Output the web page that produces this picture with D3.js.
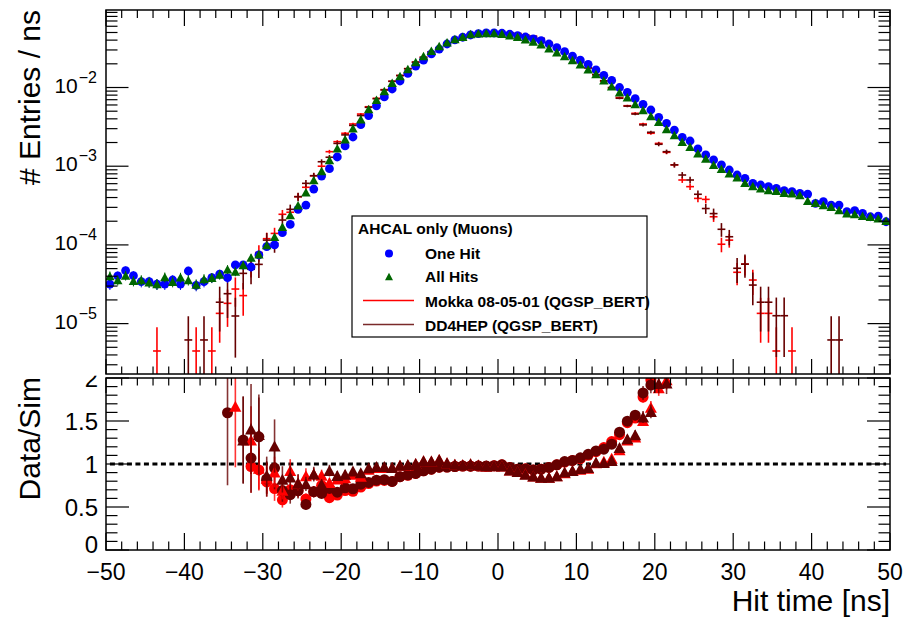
<!DOCTYPE html>
<html><head><meta charset="utf-8">
<script src="https://cdn.jsdelivr.net/npm/d3@7"></script>
<style>body{margin:0;background:#fff} svg{display:block} text{font-family:"Liberation Sans",Arial,Helvetica,sans-serif;fill:#000}</style>
</head><body><svg id="c" width="907" height="617"></svg>
<script>
// ---------------- data ----------------
const binCenters = d3.range(-49.5, 50, 1);
const oneHit = [3.18e-5,4.03e-5,4.7e-5,4.06e-5,3.41e-5,3.41e-5,3.18e-5,3.18e-5,3.58e-5,3.18e-5,
 4.66e-5,3.07e-5,3.41e-5,3.83e-5,4.26e-5,3.83e-5,5.56e-5,5.56e-5,5.24e-5,7.45e-5,
 9.5e-5,1.0e-4,1.43e-4,1.82e-4,2.83e-4,3.21e-4,5.13e-4,7.5e-4,9.3e-4,1.31e-3,
 1.81e-3,2.35e-3,3.37e-3,4.4e-3,5.85e-3,7.6e-3,9.57e-3,1.21e-2,1.51e-2,1.87e-2,
 2.23e-2,2.67e-2,3.08e-2,3.57e-2,4.02e-2,4.35e-2,4.65e-2,4.83e-2,4.93e-2,4.93e-2,
 4.89e-2,4.75e-2,4.55e-2,4.38e-2,4.16e-2,3.94e-2,3.57e-2,3.21e-2,2.85e-2,2.51e-2,
 2.23e-2,1.97e-2,1.67e-2,1.43e-2,1.23e-2,1.0e-2,8.69e-3,7.21e-3,6.12e-3,5.18e-3,
 4.18e-3,3.51e-3,2.88e-3,2.33e-3,2.09e-3,1.66e-3,1.39e-3,1.2e-3,1.04e-3,8.95e-4,
 7.73e-4,7.02e-4,6.06e-4,5.77e-4,5.49e-4,5.24e-4,4.89e-4,4.74e-4,4.53e-4,4.43e-4,
 3.38e-4,3.54e-4,3.21e-4,3.21e-4,2.64e-4,2.72e-4,2.52e-4,2.28e-4,2.32e-4,1.97e-4];
const allHits = [4.03e-5,3.58e-5,4.1e-5,3.5e-5,3.58e-5,3.35e-5,3.18e-5,3.9e-5,3.41e-5,3.87e-5,
 3.58e-5,3.15e-5,3.7e-5,3.83e-5,4.2e-5,4.9e-5,4.6e-5,5.56e-5,6.9e-5,7.6e-5,
 1.0e-4,1.27e-4,1.7e-4,2.4e-4,3.2e-4,4.66e-4,6.68e-4,8.7e-4,1.2e-3,1.69e-3,
 2.2e-3,3.03e-3,3.95e-3,5.35e-3,7.0e-3,9.03e-3,1.15e-2,1.40e-2,1.72e-2,2.11e-2,
 2.51e-2,2.94e-2,3.37e-2,3.75e-2,4.13e-2,4.42e-2,4.78e-2,4.89e-2,4.93e-2,4.93e-2,
 4.83e-2,4.61e-2,4.42e-2,4.1e-2,3.85e-2,3.54e-2,3.15e-2,2.80e-2,2.51e-2,2.23e-2,
 1.97e-2,1.70e-2,1.48e-2,1.24e-2,1.04e-2,8.69e-3,7.5e-3,6.17e-3,5.18e-3,4.35e-3,
 3.68e-3,2.97e-3,2.49e-3,2.05e-3,1.77e-3,1.46e-3,1.25e-3,1.04e-3,9.3e-4,8.13e-4,
 7.23e-4,6.17e-4,5.6e-4,5.24e-4,4.99e-4,4.89e-4,4.6e-4,4.53e-4,4.3e-4,3.65e-4,
 3.44e-4,3.21e-4,3.05e-4,2.77e-4,2.52e-4,2.47e-4,2.35e-4,2.28e-4,2.18e-4,2.03e-4];
const mokka = [null,null,null,null,null,null,4.49e-6,null,null,null,
 null,4.49e-6,null,4.49e-6,1.35e-5,1.81e-5,2.75e-5,2.27e-5,5.4e-5,8.0e-5,
 1.2e-4,1.4e-4,2.45e-4,2.6e-4,4.1e-4,5.4e-4,7.57e-4,1.0e-3,1.53e-3,2.05e-3,
 2.62e-3,3.44e-3,4.6e-3,5.7e-3,7.29e-3,9.4e-3,1.2e-2,1.42e-2,1.74e-2,2.1e-2,
 2.42e-2,2.84e-2,3.2e-2,3.7e-2,4.14e-2,4.46e-2,4.77e-2,4.95e-2,5.06e-2,5.03e-2,
 4.94e-2,4.95e-2,4.84e-2,4.63e-2,4.47e-2,4.19e-2,3.72e-2,3.24e-2,2.79e-2,2.41e-2,
 2.1e-2,1.79e-2,1.46e-2,1.2e-2,9.76e-3,7.46e-3,5.87e-3,4.7e-3,3.44e-3,2.62e-3,
 1.95e-3,1.5e-3,1.04e-3,6.68e-4,5.5e-4,3.9e-4,3.79e-4,2.28e-4,1.02e-4,1.15e-4,
 4.49e-5,5.7e-5,3.58e-5,1.35e-5,1.35e-5,4.49e-6,null,4.49e-6,null,null,
 null,null,null,null,null,null,null,null,null,null];
const dd4hep = [null,null,null,null,null,null,null,null,null,null,
 6.2e-6,null,6.2e-6,null,1.87e-5,2.4e-5,1.25e-5,4.35e-5,4.9e-5,5.66e-5,
 1.15e-4,1.05e-4,2.07e-4,2.83e-4,4.1e-4,6.06e-4,7.57e-4,1.14e-3,1.3e-3,1.95e-3,
 2.5e-3,3.3e-3,4.4e-3,5.6e-3,7.2e-3,9.3e-3,1.2e-2,1.42e-2,1.73e-2,2.1e-2,
 2.42e-2,2.84e-2,3.2e-2,3.7e-2,4.14e-2,4.46e-2,4.77e-2,4.95e-2,5.05e-2,5.03e-2,
 4.94e-2,4.95e-2,4.84e-2,4.65e-2,4.47e-2,4.19e-2,3.72e-2,3.24e-2,2.77e-2,2.41e-2,
 2.08e-2,1.77e-2,1.45e-2,1.22e-2,1.0e-2,7.3e-3,5.8e-3,4.6e-3,3.35e-3,2.7e-3,
 1.9e-3,1.53e-3,1.04e-3,7.73e-4,6.68e-4,4.4e-4,2.9e-4,2.5e-4,1.58e-4,1.27e-4,
 5.05e-5,5.7e-5,3.09e-5,1.87e-5,1.87e-5,1.26e-5,1.26e-5,null,null,null,
 null,null,6.2e-6,6.2e-6,null,null,null,null,null,null];
// size of one entry (for statistical error bars)
const dataUnit = 8e-7, mokkaUnit = 4.49e-6, ddUnit = 6.2e-6;
const xTickLabels = [-50,-40,-30,-20,-10,0,10,20,30,40,50];
const yTopExponents = [-2,-3,-4,-5];
const yBotTickLabels = [0,0.5,1,1.5,2];
const legendHeader = "AHCAL only (Muons)";
const legendLabels = ["One Hit","All Hits","Mokka 08-05-01 (QGSP_BERT)","DD4HEP (QGSP_BERT)"];

// ---------------- style ----------------
const BLUE="#0000ff", GREEN="#006600", RED="#ff0000", DARK="#660000";
const svg = d3.select("#c");
const fT = {l:106, r:890, t:10, b:374};
const fB = {l:106, r:890, t:378, b:550};
const x = d3.scaleLinear([-50,50],[fT.l,fT.r]);
const yT = d3.scaleLog([2.29e-6, 0.09656],[fT.b,fT.t]);
const yB = d3.scaleLinear([0,2],[fB.b,fB.t]);

const defs = svg.append("defs");
defs.append("clipPath").attr("id","clipT").append("rect").attr("x",fT.l).attr("y",fT.t).attr("width",fT.r-fT.l).attr("height",fT.b-fT.t);
defs.append("clipPath").attr("id","clipB").append("rect").attr("x",fB.l).attr("y",fB.t).attr("width",fB.r-fB.l).attr("height",fB.b-fB.t);

function triPath(cx,cy,w,h){return `M${cx-w/2},${cy+h/2}L${cx+w/2},${cy+h/2}L${cx},${cy-h/2}Z`;}

// =============== bottom pad ===============
const gB = svg.append("g");
gB.append("line").attr("x1",x(-49.5)).attr("x2",x(49.5)).attr("y1",yB(1)).attr("y2",yB(1))
  .attr("stroke","#000").attr("stroke-width",3).attr("stroke-dasharray","5,3.5");

const ratioSeries = [
  {data:oneHit, sim:mokka, su:mokkaUnit, color:RED, shape:"c"},
  {data:oneHit, sim:dd4hep, su:ddUnit, color:DARK, shape:"c"},
  {data:allHits, sim:mokka, su:mokkaUnit, color:RED, shape:"t"},
  {data:allHits, sim:dd4hep, su:ddUnit, color:DARK, shape:"t"}
];
const gR = gB.append("g").attr("clip-path","url(#clipB)");
ratioSeries.forEach(s=>{
  const pts = binCenters.map((c,i)=>{
    const d=s.data[i], m=s.sim[i];
    if(d==null||m==null) return null;
    const r=d/m, rel=Math.sqrt(dataUnit/d + s.su/m);
    return {c, r, e:r*rel};
  }).filter(p=>p && p.r<=2);
  gR.selectAll(null).data(pts).enter().append("line")
    .attr("x1",p=>x(p.c)).attr("x2",p=>x(p.c))
    .attr("y1",p=>yB(Math.max(0,p.r-p.e))).attr("y2",p=>yB(p.r+p.e))
    .attr("stroke",s.color).attr("stroke-width",1.6).attr("stroke-opacity",0.8);
  if(s.shape==="c"){
    gR.selectAll(null).data(pts).enter().append("circle")
      .attr("cx",p=>x(p.c)).attr("cy",p=>yB(p.r)).attr("r",5.5).attr("fill",s.color);
  } else {
    gR.selectAll(null).data(pts).enter().append("path")
      .attr("d",p=>triPath(x(p.c),yB(p.r),12,11)).attr("fill",s.color);
  }
});
gB.append("rect").attr("x",fB.l).attr("y",fB.t).attr("width",fB.r-fB.l).attr("height",fB.b-fB.t)
  .attr("fill","none").attr("stroke","#000").attr("stroke-width",1.5);
const tk = gB.append("g").attr("stroke","#000").attr("stroke-width",1.2);
d3.range(-50,50.01,2).forEach(v=>{
  const maj = Math.abs(v%10)<1e-9;
  tk.append("line").attr("x1",x(v)).attr("x2",x(v)).attr("y1",fB.b).attr("y2",fB.b-(maj?17:8.5));
  tk.append("line").attr("x1",x(v)).attr("x2",x(v)).attr("y1",fB.t).attr("y2",fB.t+(maj?15:7.5));
});
d3.range(0,20.01,1).forEach(k=>{
  const v=k/10, maj = k%5===0;
  tk.append("line").attr("x1",fB.l).attr("x2",fB.l+(maj?23:11.5)).attr("y1",yB(v)).attr("y2",yB(v));
  tk.append("line").attr("x1",fB.r).attr("x2",fB.r-(maj?23:11.5)).attr("y1",yB(v)).attr("y2",yB(v));
});
gB.selectAll(null).data(yBotTickLabels).enter().append("text")
  .attr("x",98).attr("y",v=>yB(v)+(v===0?3:8.5)).attr("text-anchor","end").attr("font-size",24)
  .text(v=>String(v));
gB.selectAll(null).data(xTickLabels).enter().append("text")
  .attr("x",v=>x(v)).attr("y",580).attr("text-anchor","middle").attr("font-size",23)
  .text(v=>v<0?"\u2212"+Math.abs(v):String(v));
gB.append("text").attr("x",890).attr("y",611).attr("text-anchor","end").attr("font-size",30).text("Hit time [ns]");
gB.append("text").attr("transform","translate(40,377) rotate(-90)").attr("text-anchor","end").attr("font-size",30).text("Data/Sim");

// =============== top pad ===============
svg.append("rect").attr("x",0).attr("y",0).attr("width",907).attr("height",375.7).attr("fill","#fff");
const gT = svg.append("g");
const gP = gT.append("g").attr("clip-path","url(#clipT)");
function drawSim(arr, unit, color){
  const pts = binCenters.map((c,i)=>arr[i]==null?null:{c, v:arr[i], e:Math.sqrt(arr[i]*unit)}).filter(p=>p);
  gP.selectAll(null).data(pts).enter().append("line")
    .attr("x1",p=>x(p.c-0.5)).attr("x2",p=>x(p.c+0.5)).attr("y1",p=>yT(p.v)).attr("y2",p=>yT(p.v))
    .attr("stroke",color).attr("stroke-width",1.6);
  gP.selectAll(null).data(pts).enter().append("line")
    .attr("x1",p=>x(p.c)).attr("x2",p=>x(p.c))
    .attr("y1",p=>(p.v-p.e)>0?yT(p.v-p.e):fT.b+2).attr("y2",p=>yT(p.v+p.e))
    .attr("stroke",color).attr("stroke-width",1.6);
}
drawSim(mokka, mokkaUnit, RED);
drawSim(dd4hep, ddUnit, DARK);
function dataErr(arr,color){
  gP.selectAll(null).data(binCenters.map((c,i)=>({c,v:arr[i],e:Math.sqrt(arr[i]*dataUnit)}))).enter().append("line")
    .attr("x1",p=>x(p.c)).attr("x2",p=>x(p.c)).attr("y1",p=>yT(p.v-p.e)).attr("y2",p=>yT(p.v+p.e))
    .attr("stroke",color).attr("stroke-width",1);
}
dataErr(oneHit,BLUE);
gP.selectAll(null).data(binCenters.map((c,i)=>({c,v:oneHit[i]}))).enter().append("circle")
  .attr("cx",p=>x(p.c)).attr("cy",p=>yT(p.v)).attr("r",4.4).attr("fill",BLUE);
dataErr(allHits,GREEN);
gP.selectAll(null).data(binCenters.map((c,i)=>({c,v:allHits[i]}))).enter().append("path")
  .attr("d",p=>triPath(x(p.c),yT(p.v),9.5,8.5)).attr("fill",GREEN);

gT.append("rect").attr("x",fT.l).attr("y",fT.t).attr("width",fT.r-fT.l).attr("height",fT.b-fT.t)
  .attr("fill","none").attr("stroke","#000").attr("stroke-width",1.5);
const tkT = gT.append("g").attr("stroke","#000").attr("stroke-width",1.2);
d3.range(-50,50.01,2).forEach(v=>{
  const maj = Math.abs(v%10)<1e-9;
  tkT.append("line").attr("x1",x(v)).attr("x2",x(v)).attr("y1",fT.t).attr("y2",fT.t+(maj?16:8));
  tkT.append("line").attr("x1",x(v)).attr("x2",x(v)).attr("y1",fT.b).attr("y2",fT.b-(maj?15:7.5));
});
for(let e=-6;e<=-1;e++){
  for(let m=1;m<=9;m++){
    const v=m*Math.pow(10,e);
    if(v<yT.domain()[0]||v>yT.domain()[1]) continue;
    const L = m===1?22.5:11.5;
    tkT.append("line").attr("x1",fT.l).attr("x2",fT.l+L).attr("y1",yT(v)).attr("y2",yT(v));
    tkT.append("line").attr("x1",fT.r).attr("x2",fT.r-L).attr("y1",yT(v)).attr("y2",yT(v));
  }
}
yTopExponents.forEach(e=>{
  const t = gT.append("text").attr("x",97).attr("y",yT(Math.pow(10,e))+5).attr("text-anchor","end").attr("font-size",21);
  t.append("tspan").text("10");
  t.append("tspan").attr("dy",-10).attr("font-size",16).attr("dx",1).text("\u2212"+Math.abs(e));
});
gT.append("text").attr("transform","translate(40,10) rotate(-90)").attr("text-anchor","end").attr("font-size",30).text("# Entries / ns");

// legend
const lg = gT.append("g");
lg.append("rect").attr("x",352).attr("y",216).attr("width",295).attr("height",121)
  .attr("fill","#fff").attr("stroke","#000").attr("stroke-width",1.2);
lg.append("text").attr("x",358).attr("y",234).attr("font-size",15.5).attr("font-weight","bold").text(legendHeader);
const rowsY = [258.5,282,306.5,330.5];
lg.selectAll(null).data(legendLabels).enter().append("text")
  .attr("x",425).attr("y",(d,i)=>rowsY[i]).attr("font-size",15.5).attr("font-weight","bold").text(d=>d);
lg.append("circle").attr("cx",389).attr("cy",rowsY[0]-5).attr("r",4).attr("fill",BLUE);
lg.append("path").attr("d",triPath(389,rowsY[1]-5.5,8,7.5)).attr("fill",GREEN);
lg.append("line").attr("x1",363).attr("x2",414).attr("y1",rowsY[2]-6).attr("y2",rowsY[2]-6).attr("stroke",RED).attr("stroke-width",1.5);
lg.append("line").attr("x1",363).attr("x2",414).attr("y1",rowsY[3]-6).attr("y2",rowsY[3]-6).attr("stroke","#7a2a2a").attr("stroke-width",1.5);
</script></body></html>
